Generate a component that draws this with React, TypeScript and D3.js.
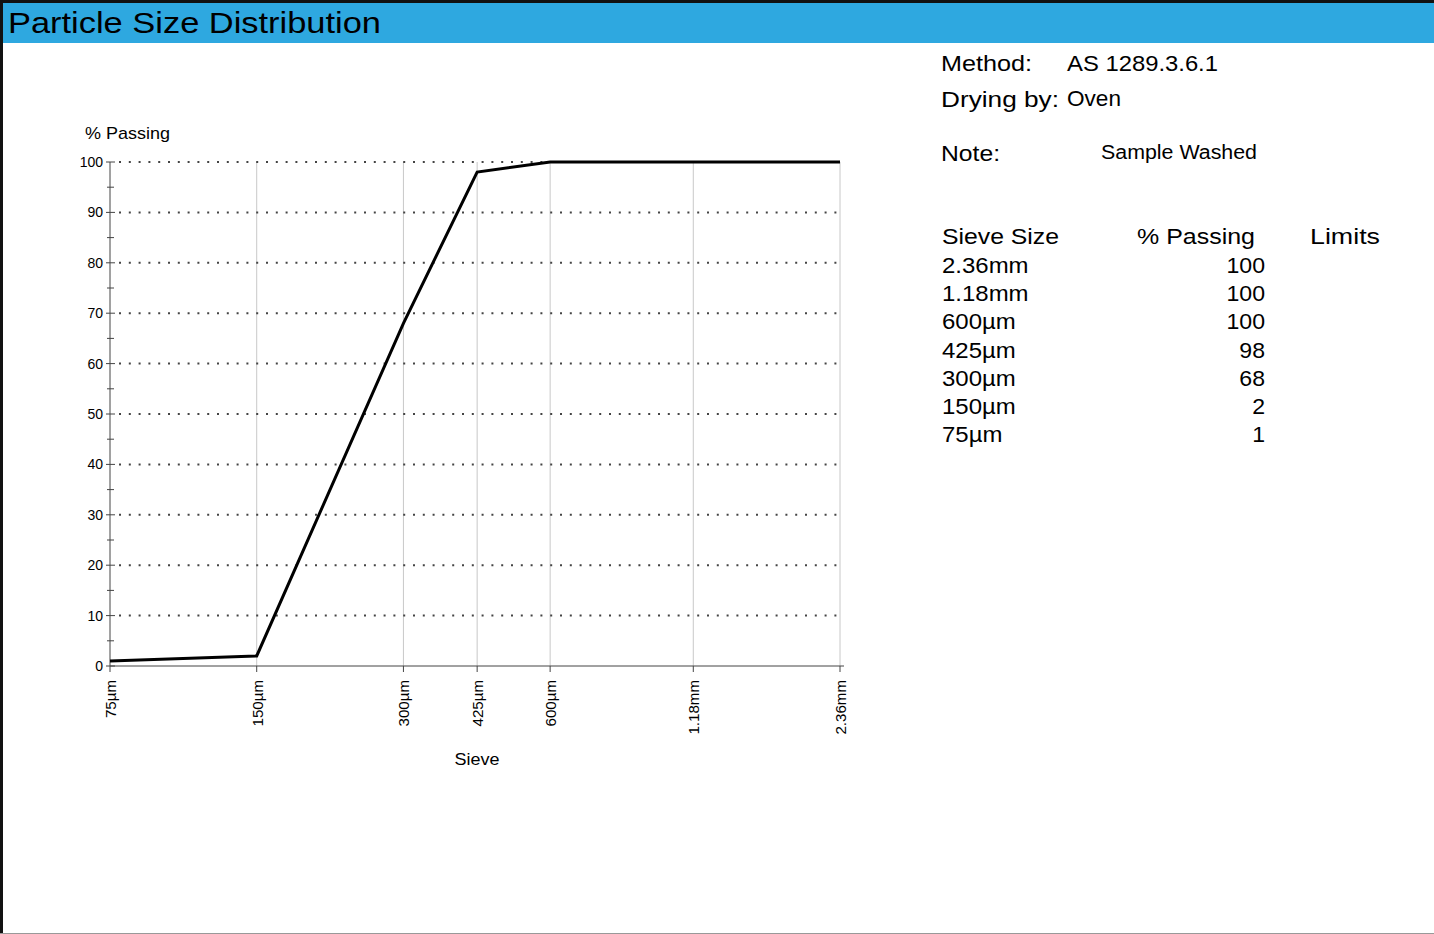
import React from "react";
import * as d3 from "d3";

const sieveLabels = ["75µm", "150µm", "300µm", "425µm", "600µm", "1.18mm", "2.36mm"];
const sieveSizes = [75, 150, 300, 425, 600, 1180, 2360];
const passing = [1, 2, 68, 98, 100, 100, 100];
const yTicks = [0, 10, 20, 30, 40, 50, 60, 70, 80, 90, 100];
const yMinorTicks = [5, 15, 25, 35, 45, 55, 65, 75, 85, 95];
const tableLabels = ["2.36mm", "1.18mm", "600µm", "425µm", "300µm", "150µm", "75µm"];
const tableValues = [100, 100, 100, 98, 68, 2, 1];

const W = 1434;
const H = 934;
const FONT = "'Liberation Sans', Arial, sans-serif";

function T(props: {
  x: number;
  y: number;
  size: number;
  sx?: number;
  anchor?: "start" | "middle" | "end";
  len?: number;
  children: React.ReactNode;
}) {
  const { x, y, size, sx = 1, anchor = "start", len, children } = props;
  if (len) {
    return (
      <text
        x={x}
        y={y}
        fontSize={size}
        textAnchor={anchor}
        textLength={len}
        lengthAdjust="spacingAndGlyphs"
        fill="#000"
      >
        {children}
      </text>
    );
  }
  return (
    <text
      transform={`translate(${x},${y}) scale(${sx},1)`}
      fontSize={size}
      textAnchor={anchor}
      fill="#000"
    >
      {children}
    </text>
  );
}

export default function App() {
  const x = d3.scaleLog().domain([75, 2360]).range([110, 840]);
  const y = d3.scaleLinear().domain([0, 100]).range([666, 162]);
  const line = d3
    .line<number>()
    .x((_, i) => x(sieveSizes[i]))
    .y((d) => y(d));

  return (
    <svg
      width={W}
      height={H}
      style={{ position: "absolute", left: 0, top: 0, background: "#fff" }}
      fontFamily={FONT}
    >
      <rect x={0} y={0} width={W} height={H} fill="#fff" />
      {/* frame */}
      <rect x={0} y={0} width={W} height={3} fill="#111" />
      <rect x={0} y={0} width={3} height={H} fill="#111" />
      <rect x={0} y={H - 1} width={W} height={1} fill="#999" />
      {/* title bar */}
      <rect x={3} y={3} width={W - 3} height={40} fill="#2ea8e0" />
      <T x={8} y={33} size={30} len={373}>Particle Size Distribution</T>

      {/* vertical gridlines */}
      {sieveSizes.slice(1).map((s) => (
        <line key={"vg" + s} x1={x(s)} x2={x(s)} y1={162} y2={666} stroke="#c8c8c8" strokeWidth={1} />
      ))}
      {/* horizontal dotted gridlines */}
      {yTicks.slice(1).map((t) => (
        <line
          key={"hg" + t}
          x1={119}
          x2={840}
          y1={y(t)}
          y2={y(t)}
          stroke="#444"
          strokeWidth={2}
          strokeDasharray="2,7.8"
        />
      ))}

      {/* y axis */}
      <line x1={110} x2={110} y1={162} y2={666} stroke="#444" strokeWidth={1} />
      {yTicks.map((t) => (
        <g key={"yt" + t}>
          <line x1={106} x2={115} y1={y(t)} y2={y(t)} stroke="#444" />
          <T x={103} y={y(t) + 5} size={14} anchor="end">{t}</T>
        </g>
      ))}
      {yMinorTicks.map((t) => (
        <line key={"ym" + t} x1={107} x2={114} y1={y(t)} y2={y(t)} stroke="#444" />
      ))}
      <T x={85} y={139} size={17} len={85}>% Passing</T>

      {/* x axis */}
      <line x1={110} x2={844} y1={666} y2={666} stroke="#444" strokeWidth={1} />
      {sieveSizes.map((s, i) => (
        <g key={"xt" + s}>
          <line x1={x(s)} x2={x(s)} y1={666} y2={672} stroke="#444" />
          <text
            transform={`translate(${x(s) + 6},680) rotate(-90) scale(1.08,1)`}
            fontSize={14}
            textAnchor="end"
            fill="#000"
          >
            {sieveLabels[i]}
          </text>
        </g>
      ))}
      <T x={477} y={765} size={17} anchor="middle" len={45}>Sieve</T>

      {/* data line */}
      <path d={line(passing) || ""} fill="none" stroke="#000" strokeWidth={3} strokeLinejoin="miter" />

      {/* info panel */}
      <T x={941} y={71} size={22} len={91}>Method:</T>
      <T x={1067} y={71} size={22} len={151}>AS 1289.3.6.1</T>
      <T x={941} y={107} size={22} len={118}>Drying by:</T>
      <T x={1067} y={106} size={22} len={54}>Oven</T>
      <T x={941} y={161} size={22} len={59}>Note:</T>
      <T x={1101} y={159} size={20} len={156}>Sample Washed</T>

      <T x={942} y={244} size={22} len={117}>Sieve Size</T>
      <T x={1137} y={244} size={22} len={118}>% Passing</T>
      <T x={1310} y={244} size={22} len={70}>Limits</T>
      {tableLabels.map((l, i) => (
        <g key={"row" + l}>
          <T x={942} y={273 + i * 28.2} size={22} sx={1.09}>{l}</T>
          <T x={1265} y={273 + i * 28.2} size={22} sx={1.05} anchor="end">{tableValues[i]}</T>
        </g>
      ))}
    </svg>
  );
}
